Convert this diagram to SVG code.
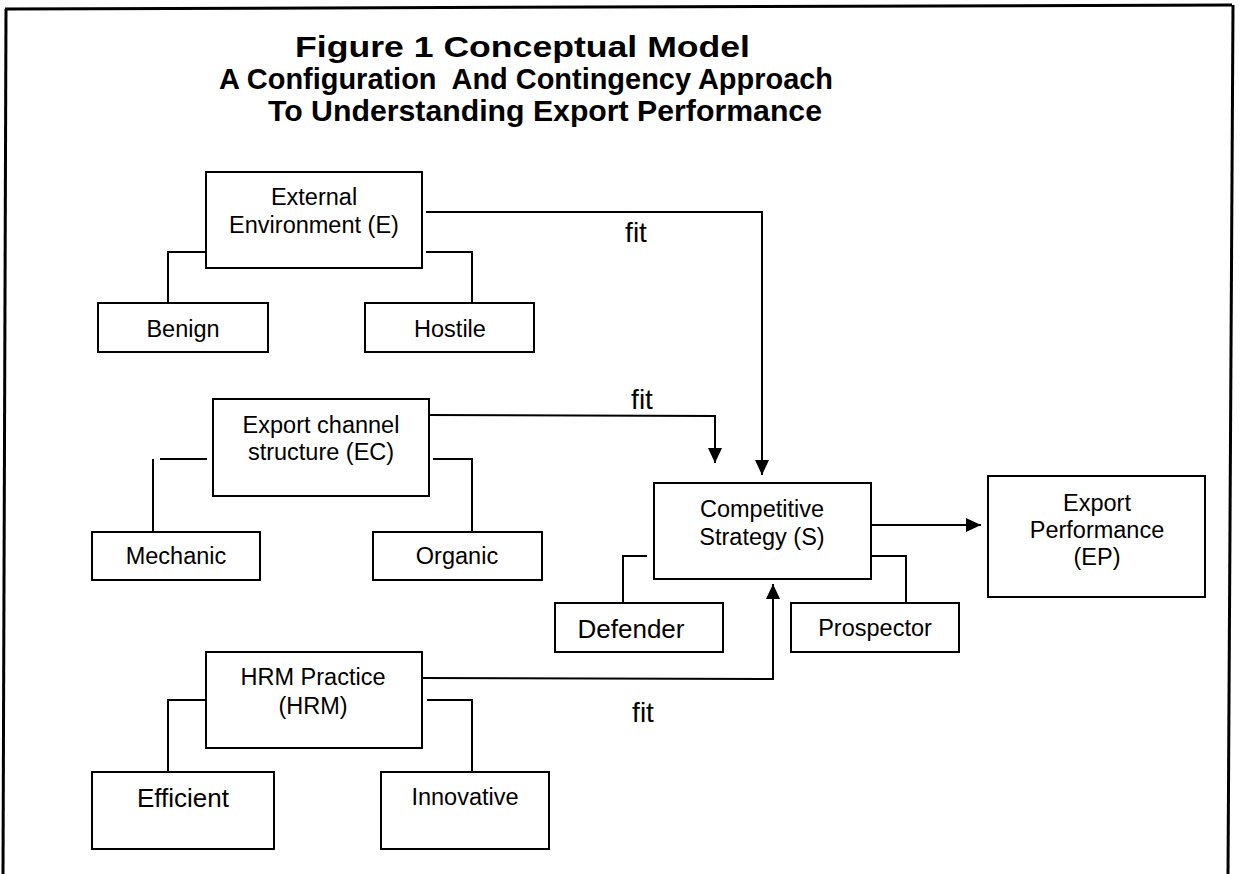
<svg xmlns="http://www.w3.org/2000/svg" width="1240" height="874" viewBox="0 0 1240 874">
<style>
  .box { fill: #fff; stroke: #000; stroke-width: 2; }
  .lbl { font-family: "Liberation Sans", Arial, sans-serif; font-size: 23.5px; fill: #000; text-anchor: middle; }
  .big { font-size: 26px; }
  .fit { font-family: "Liberation Sans", Arial, sans-serif; font-size: 28px; fill: #000; text-anchor: middle; }
  .title { font-family: "Liberation Sans", Arial, sans-serif; font-weight: bold; font-size: 30px; fill: #000; }
  .ln { fill: none; stroke: #000; stroke-width: 2; }
  .frame { fill: none; stroke: #000; stroke-width: 3; }
</style>
<defs>
  <marker id="arr" markerUnits="userSpaceOnUse" markerWidth="15" markerHeight="14" refX="15" refY="7" orient="auto">
    <path d="M0,0 L15,7 L0,14 z" fill="#000"/>
  </marker>
</defs>
<rect width="1240" height="874" fill="#fff"/>
<g id="frame">
  <line class="frame" x1="5" y1="9" x2="1232" y2="5"/>
  <line class="frame" x1="6" y1="9" x2="3" y2="874"/>
  <line class="frame" x1="1233" y1="5" x2="1228" y2="874"/>
</g>
<g id="title">
  <text class="title" x="295" y="57" textLength="455" lengthAdjust="spacingAndGlyphs">Figure 1 Conceptual Model</text>
  <text class="title" x="219" y="89" textLength="614" lengthAdjust="spacingAndGlyphs" xml:space="preserve">A Configuration  And Contingency Approach</text>
  <text class="title" x="268" y="121" textLength="554" lengthAdjust="spacingAndGlyphs">To Understanding Export Performance</text>
</g>
<g id="connectors">
  <polyline class="ln" points="426,212 762,212 762,475" marker-end="url(#arr)"/>
  <polyline class="ln" points="426,415 715,416 715,463" marker-end="url(#arr)"/>
  <polyline class="ln" points="421,678 773,679 773,584" marker-end="url(#arr)"/>
  <line class="ln" x1="867" y1="525" x2="981" y2="525" marker-end="url(#arr)"/>
  <polyline class="ln" points="214,252 168,252 168,303"/>
  <polyline class="ln" points="426,252 472,252 472,303"/>
  <line class="ln" x1="160" y1="459" x2="207" y2="459"/>
  <line class="ln" x1="153" y1="459" x2="153" y2="532"/>
  <polyline class="ln" points="433,459 472,459 472,532"/>
  <polyline class="ln" points="647,556 623,556 623,603"/>
  <polyline class="ln" points="867,556 906,556 906,603"/>
  <polyline class="ln" points="206,700 168,700 168,772"/>
  <polyline class="ln" points="427,700 472,700 472,772"/>
</g>
<g id="fit-labels">
  <text class="fit" x="636" y="242">fit</text>
  <text class="fit" x="642" y="409">fit</text>
  <text class="fit" x="643" y="722">fit</text>
</g>
<g id="node-E">
  <rect class="box" x="206" y="172" width="216" height="96"/>
  <text class="lbl" x="314" y="205">External</text>
  <text class="lbl" x="314" y="233">Environment (E)</text>
</g>
<g id="node-benign">
  <rect class="box" x="98" y="303" width="170" height="49"/>
  <text class="lbl" x="183" y="337">Benign</text>
</g>
<g id="node-hostile">
  <rect class="box" x="365" y="303" width="169" height="49"/>
  <text class="lbl" x="450" y="337">Hostile</text>
</g>
<g id="node-EC">
  <rect class="box" x="213" y="399" width="216" height="97"/>
  <text class="lbl" x="321" y="433">Export channel</text>
  <text class="lbl" x="321" y="460">structure (EC)</text>
</g>
<g id="node-mechanic">
  <rect class="box" x="92" y="532" width="168" height="48"/>
  <text class="lbl" x="176" y="564">Mechanic</text>
</g>
<g id="node-organic">
  <rect class="box" x="373" y="532" width="169" height="48"/>
  <text class="lbl" x="457" y="564">Organic</text>
</g>
<g id="node-S">
  <rect class="box" x="654" y="483" width="217" height="96"/>
  <text class="lbl" x="762" y="517">Competitive</text>
  <text class="lbl" x="762" y="545">Strategy (S)</text>
</g>
<g id="node-EP">
  <rect class="box" x="988" y="476" width="217" height="121"/>
  <text class="lbl" x="1097" y="511">Export</text>
  <text class="lbl" x="1097" y="538">Performance</text>
  <text class="lbl" x="1097" y="565">(EP)</text>
</g>
<g id="node-defender">
  <rect class="box" x="555" y="603" width="168" height="49"/>
  <text class="lbl big" x="631" y="638">Defender</text>
</g>
<g id="node-prospector">
  <rect class="box" x="791" y="603" width="168" height="49"/>
  <text class="lbl" x="875" y="636">Prospector</text>
</g>
<g id="node-HRM">
  <rect class="box" x="206" y="652" width="216" height="96"/>
  <text class="lbl" x="313" y="685">HRM Practice</text>
  <text class="lbl" x="313" y="714">(HRM)</text>
</g>
<g id="node-efficient">
  <rect class="box" x="92" y="772" width="182" height="77"/>
  <text class="lbl big" x="183" y="807">Efficient</text>
</g>
<g id="node-innovative">
  <rect class="box" x="381" y="772" width="168" height="77"/>
  <text class="lbl" x="465" y="805">Innovative</text>
</g>
</svg>
